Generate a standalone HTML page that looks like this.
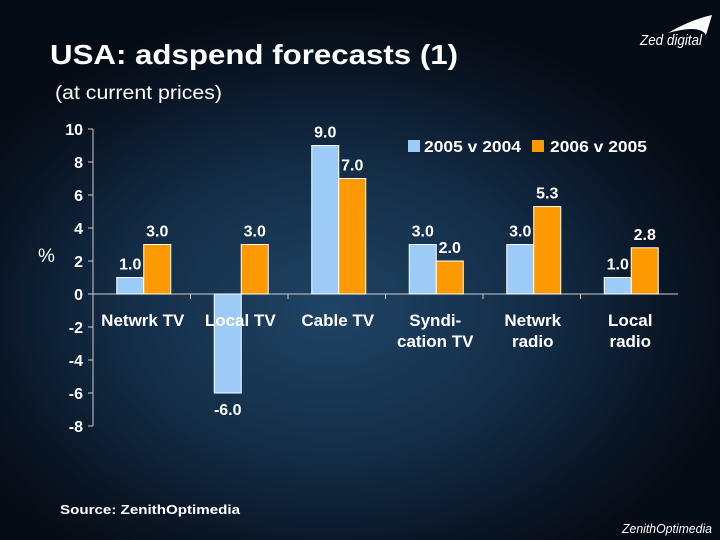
<!DOCTYPE html>
<html><head><meta charset="utf-8"><style>
body{margin:0;width:720px;height:540px;overflow:hidden;font-family:"Liberation Sans",sans-serif;}
#bg{position:absolute;left:0;top:0;width:720px;height:540px;background:radial-gradient(ellipse 420px 300px at 330px 310px,#1f4465 0%,#132c46 50%,#0a1626 80%,#050b14 100%);}
svg{position:absolute;left:0;top:0}
</style></head><body>
<div id="bg"></div>
<svg width="720" height="540">
<text x="50" y="64" fill="#fff" font-size="28" font-weight="bold" textLength="408" lengthAdjust="spacingAndGlyphs">USA: adspend forecasts (1)</text>
<text x="55" y="99" fill="#fff" font-size="19" textLength="167" lengthAdjust="spacingAndGlyphs">(at current prices)</text>
<text x="640" y="45" fill="#fff" font-size="15" font-style="italic" textLength="62" lengthAdjust="spacingAndGlyphs">Zed digital</text>
<path d="M668 33 Q690 20 712 15 L706 35 Q700 24 668 33Z" fill="#fff"/>
<text x="622" y="533" fill="#fff" font-size="13" font-style="italic" textLength="90" lengthAdjust="spacingAndGlyphs">ZenithOptimedia</text>
<text x="60" y="514" fill="#fff" font-size="13" font-weight="bold" textLength="180" lengthAdjust="spacingAndGlyphs">Source: ZenithOptimedia</text>
<text x="38" y="262" fill="#fff" font-size="19">%</text>
<g id="plot"></g>
<rect x="408" y="140" width="12" height="12" fill="#9dcbf7"/>
<text x="424" y="152" fill="#fff" font-size="16" font-weight="bold" textLength="97" lengthAdjust="spacingAndGlyphs">2005 v 2004</text>
<rect x="532" y="140" width="12" height="12" fill="#ff9900"/>
<text x="550" y="152" fill="#fff" font-size="16" font-weight="bold" textLength="97" lengthAdjust="spacingAndGlyphs">2006 v 2005</text>
</svg>
<script>
const categories=[["Netwrk TV"],["Local TV"],["Cable TV"],["Syndi-","cation TV"],["Netwrk","radio"],["Local","radio"]];
const series2005=[1.0,-6.0,9.0,3.0,3.0,1.0];
const series2006=[3.0,3.0,7.0,2.0,5.3,2.8];
const yTicks=[10,8,6,4,2,0,-2,-4,-6,-8];
const NS="http://www.w3.org/2000/svg";
const g=document.getElementById('plot');
const x0=93,x1=678,yTop=129,yBot=426,vMax=10,vMin=-8;
const y=v=>yTop+(vMax-v)*(yBot-yTop)/(vMax-vMin);
const cw=(x1-x0)/categories.length;
function el(t,a,txt){const e=document.createElementNS(NS,t);for(const k in a)e.setAttribute(k,a[k]);if(txt!==undefined)e.textContent=txt;g.appendChild(e);return e;}
let ax=el('line',{x1:x0,y1:yTop,x2:x0,y2:yBot,stroke:'#ccc'});


yTicks.forEach(v=>{
 let t=el('line',{x1:x0-5,y1:y(v),x2:x0,y2:y(v),stroke:'#ccc'});
 
 
 let l=el('text',{x:x0-10,y:y(v)+6,fill:'#fff','font-size':16,'font-weight':'bold','text-anchor':'end'},String(v));
 
 
});
let xa=el('line',{x1:x0,y1:y(0),x2:x1,y2:y(0),stroke:'#ccc'});


categories.forEach((c,i)=>{
 const cx=x0+cw*(i+0.5)+2;
 if(i>0){let t=el('line',{x1:x0+cw*i,y1:y(0),x2:x0+cw*i,y2:y(0)+5,stroke:'#ccc'});
 
 }
 const bw=27;
 [[series2005[i],cx-bw,'#9dcbf7','bar-2005'],[series2006[i],cx,'#ff9900','bar-2006']].forEach(([v,bx,col,nm])=>{
  const top=Math.min(y(v),y(0)),h=Math.abs(y(v)-y(0));
  let r=el('rect',{x:bx,y:top,width:bw,height:h,fill:col,stroke:'#fff','stroke-width':1});
  
  
  const ly=v>=0?y(v)-8:y(v)+22;
  let t=el('text',{x:bx+bw/2,y:ly,fill:'#fff','font-size':16,'font-weight':'bold','text-anchor':'middle'},v.toFixed(1));
  
  
 });
 c.forEach((line,j)=>{
  let t=el('text',{x:cx-1,y:y(0)+32+j*21,fill:'#fff','font-size':17,'font-weight':'bold','text-anchor':'middle'},line);
  
  
 });
});
</script>
</body></html>
